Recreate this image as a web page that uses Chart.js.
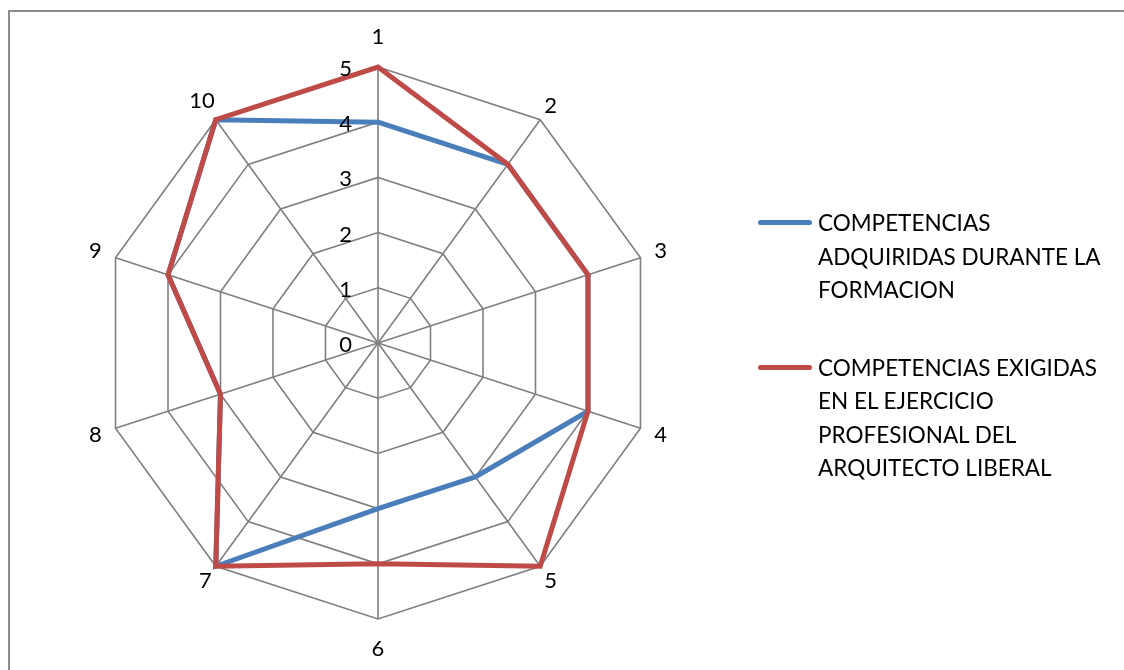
<!DOCTYPE html>
<html>
<head>
<meta charset="utf-8">
<script src="https://cdn.jsdelivr.net/npm/chart.js@4"></script>
<style>
    body { margin: 0; background: #fff; }
    #wrap { position: relative; width: 1124px; height: 670px; overflow: hidden; }
    #frame { position: absolute; left: 8px; top: 10px; width: 1200px; height: 700px;
             border-left: 2px solid #8c8c8c; border-top: 2px solid #8c8c8c; }
    #myChart { position: absolute; left: 0; top: 0; }
    #legend { position: absolute; left: 756px; top: 206px; font-family: Lato, sans-serif;
              font-size: 22.5px; color: #000; }
    .item { position: relative; padding-left: 62px; line-height: 33.5px; margin-bottom: 44px; }
    .swatch { position: absolute; left: 2px; top: 14px; width: 54px; height: 5px; border-radius: 3px; }
</style>
</head>
<body>
<div id="wrap">
    <div id="frame"></div>
    <canvas id="myChart" width="1124" height="670"></canvas>
    <div id="legend"></div>
</div>
<script>
const labels = ['1', '2', '3', '4', '5', '6', '7', '8', '9', '10']
const adquiridas = [4, 4, 4, 4, 3, 3, 5, 3, 4, 5]
const exigidas = [5, 4, 4, 4, 5, 4, 5, 3, 4, 5]
const tickLabels = ['0', '1', '2', '3', '4', '5']
const seriesNames = [
    ['COMPETENCIAS', 'ADQUIRIDAS DURANTE LA', 'FORMACION'],
    ['COMPETENCIAS EXIGIDAS', 'EN EL EJERCICIO', 'PROFESIONAL DEL', 'ARQUITECTO LIBERAL']
]
const colors = ['#4a7ebb', '#be4b48']

// draw the tick numbers and the category numbers like Excel does
const labelPlugin = {
    id: 'labelPlugin',
    afterDraw(chart) {
        const scale = chart.scales.r
        const ctx = chart.ctx
        ctx.save()
        ctx.fillStyle = '#000'
        ctx.font = '22px Lato'
        ctx.textBaseline = 'middle'
        ctx.textAlign = 'right'
        tickLabels.forEach((t, i) => {
            const y = scale.yCenter - scale.getDistanceFromCenterForValue(i)
            ctx.fillText(t, scale.xCenter - 26, y + 2)
        })
        ctx.textAlign = 'center'
        const R = scale.drawingArea
        labels.forEach((lab, i) => {
            const a = scale.getIndexAngle(i)
            const hw = ctx.measureText(lab).width / 2
            const s = Math.abs(Math.sin(a))
            let off = 12 + hw * s * 1.5
            if (s < 0.01) off = 30
            const p = scale.getPointPosition(i, R + off)
            ctx.fillText(lab, p.x, p.y)
        })
        ctx.restore()
    }
}

const ctx = document.getElementById('myChart')
const myChart = new Chart(ctx, {
    type: 'radar',
    data: {
        labels: labels,
        datasets: [{
            label: seriesNames[0].join(' '),
            data: adquiridas,
            borderColor: colors[0],
            backgroundColor: 'transparent',
            borderWidth: 5,
            pointRadius: 0,
            order: 1
        }, {
            label: seriesNames[1].join(' '),
            data: exigidas,
            borderColor: colors[1],
            backgroundColor: 'transparent',
            borderWidth: 5,
            pointRadius: 0,
            order: 0
        }]
    },
    options: {
        responsive: false,
        animation: false,
        layout: {
            padding: { left: 102, right: 470, top: 67, bottom: 51 }
        },
        plugins: {
            legend: { display: false },
            tooltip: { enabled: false }
        },
        scales: {
            r: {
                min: 0,
                max: 5,
                ticks: { display: false, stepSize: 1 },
                pointLabels: { display: false },
                grid: { color: '#7f7f7f', lineWidth: 1.6 },
                angleLines: { color: '#7f7f7f', lineWidth: 1.6 }
            }
        }
    },
    plugins: [labelPlugin]
})

const legend = document.getElementById('legend')
seriesNames.forEach((lines, i) => {
    const item = document.createElement('div')
    item.className = 'item'
    const sw = document.createElement('div')
    sw.className = 'swatch'
    sw.style.background = colors[i]
    item.appendChild(sw)
    lines.forEach(l => {
        const d = document.createElement('div')
        d.textContent = l
        item.appendChild(d)
    })
    legend.appendChild(item)
})
</script>
</body>
</html>
